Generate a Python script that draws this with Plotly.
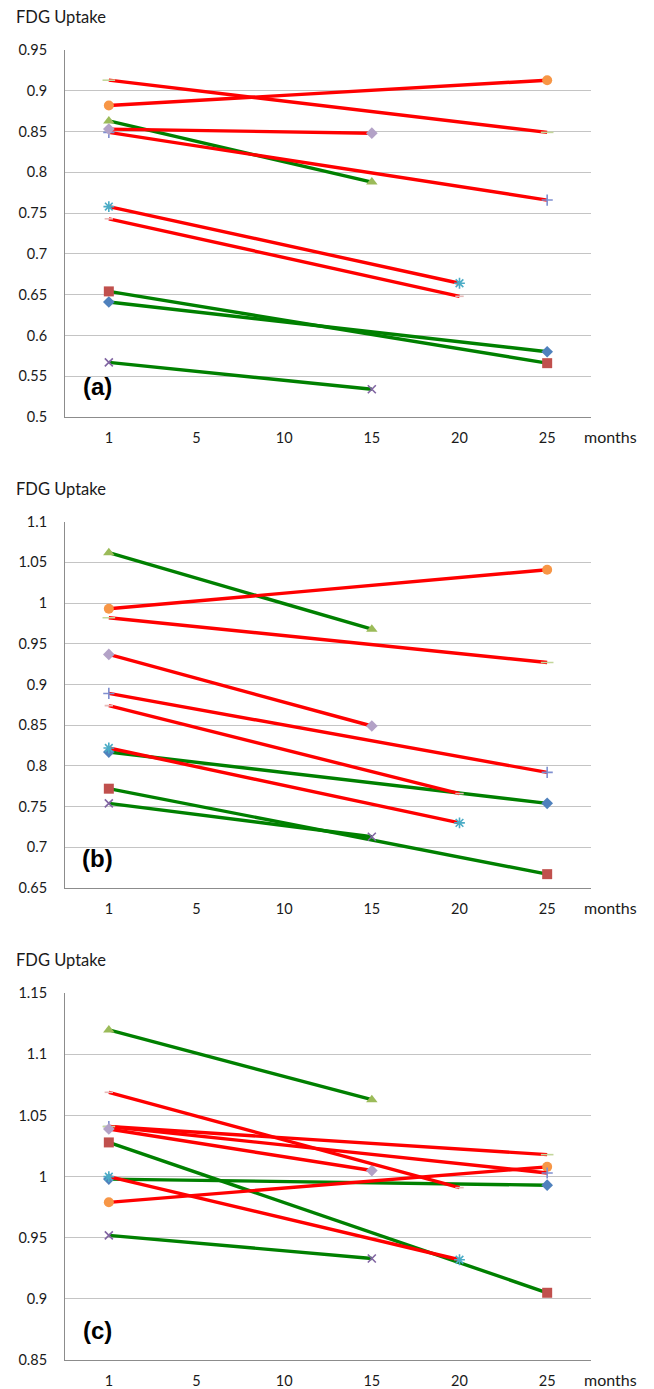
import plotly.graph_objects as go

months = ["1", "5", "10", "15", "20", "25"]

# subjects (series order): marker identity, end month, line colour group
subject_symbols = ["diamond", "square", "triangle-up", "x-thin-open", "asterisk-open",
                   "circle", "cross-thin-open", "line-ew-open", "diamond", "line-ew-open"]
subject_marker_colors = ["#4F81BD", "#C0504D", "#9BBB59", "#8064A2", "#4BACC6",
                         "#F79646", "#7F8FD0", "#C3D69B", "#B3A2C7", "#E6B9B8"]
subject_marker_sizes = [9, 10, 10, 8, 9, 10, 8, 9, 9, 6]
subject_line_colors = ["#008000", "#008000", "#008000", "#008000", "#FF0000",
                       "#FF0000", "#FF0000", "#FF0000", "#FF0000", "#FF0000"]
end_month = ["25", "25", "15", "15", "20", "25", "25", "25", "15", "20"]

# FDG uptake at month 1 and at the follow-up month
a_start = [0.641, 0.654, 0.863, 0.567, 0.758, 0.882, 0.849, 0.913, 0.853, 0.743]
a_end = [0.580, 0.566, 0.788, 0.534, 0.664, 0.913, 0.766, 0.849, 0.848, 0.648]

b_start = [0.817, 0.772, 1.062, 0.754, 0.822, 0.993, 0.889, 0.982, 0.937, 0.874]
b_end = [0.754, 0.667, 0.968, 0.713, 0.730, 1.041, 0.792, 0.927, 0.849, 0.766]

c_start = [0.998, 1.028, 1.120, 0.952, 1.000, 0.979, 1.041, 1.041, 1.039, 1.069]
c_end = [0.993, 0.905, 1.063, 0.933, 0.932, 1.008, 1.003, 1.018, 1.005, 0.991]

a_ticks = [0.5, 0.55, 0.6, 0.65, 0.7, 0.75, 0.8, 0.85, 0.9, 0.95]
a_ticktext = ["0.5", "0.55", "0.6", "0.65", "0.7", "0.75", "0.8", "0.85", "0.9", "0.95"]
b_ticks = [0.65, 0.7, 0.75, 0.8, 0.85, 0.9, 0.95, 1.0, 1.05, 1.1]
b_ticktext = ["0.65", "0.7", "0.75", "0.8", "0.85", "0.9", "0.95", "1", "1.05", "1.1"]
c_ticks = [0.85, 0.9, 0.95, 1.0, 1.05, 1.1, 1.15]
c_ticktext = ["0.85", "0.9", "0.95", "1", "1.05", "1.1", "1.15"]

panel_labels = ["(a)", "(b)", "(c)"]

W, H = 654, 1389
FONT = "Lato, 'Open Sans', sans-serif"
TXT = "#1a1a1a"

fig = go.Figure()

panels = [
    (a_start, a_end, "x", "y"),
    (b_start, b_end, "x2", "y2"),
    (c_start, c_end, "x3", "y3"),
]
for starts, ends, xa, ya in panels:
    for i in range(len(starts)):
        open_sym = subject_symbols[i].endswith("open")
        fig.add_trace(go.Scatter(
            x=[months[0], end_month[i]], y=[starts[i], ends[i]],
            xaxis=xa, yaxis=ya, mode="lines+markers",
            line=dict(color=subject_line_colors[i], width=3.4),
            marker=dict(symbol=subject_symbols[i], size=subject_marker_sizes[i],
                        color=subject_marker_colors[i],
                        line=dict(color=subject_marker_colors[i], width=1.6 if open_sym else 0)),
            showlegend=False, hoverinfo="x+y"))

# pixel geometry -> paper domains
x_dom = [65 / W, 591 / W]
plot_boxes = [(50, 417), (521.7, 888), (993.3, 1360)]
y_doms = [[1 - b / H, 1 - t / H] for t, b in plot_boxes]
yranges = [[0.5, 0.95], [0.65, 1.1], [0.85, 1.15]]
ytickvals = [a_ticks, b_ticks, c_ticks]
yticktexts = [a_ticktext, b_ticktext, c_ticktext]

layout = dict(
    width=W, height=H, margin=dict(l=0, r=0, t=0, b=0, autoexpand=False),
    paper_bgcolor="white", plot_bgcolor="white", showlegend=False,
    font=dict(family=FONT, size=14, color=TXT),
)
annotations = []
for k in range(3):
    sx = "" if k == 0 else str(k + 1)
    layout["xaxis" + sx] = dict(
        domain=x_dom, type="category", categoryorder="array", categoryarray=months,
        range=[-0.5, 5.5], anchor="y" + sx, showgrid=False, showline=True,
        linecolor="#8c8c8c", linewidth=1, ticks="", zeroline=False, automargin=False,
        tickfont=dict(family=FONT, size=14.5, color=TXT), ticklabelstandoff=8,
        fixedrange=True)
    layout["yaxis" + sx] = dict(
        domain=y_doms[k], range=yranges[k], anchor="x" + sx,
        tickvals=ytickvals[k], ticktext=yticktexts[k],
        showgrid=True, gridcolor="#c4c4c4", gridwidth=1, automargin=False,
        showline=True, linecolor="#8c8c8c", linewidth=1, ticks="", zeroline=False,
        tickfont=dict(family=FONT, size=14.5, color=TXT), ticklabelstandoff=14,
        fixedrange=True)
    t, b = plot_boxes[k]
    annotations.append(dict(text="FDG Uptake", xref="paper", yref="paper",
                            x=14 / W, y=1 - (t - 33) / H, xanchor="left", yanchor="middle",
                            showarrow=False, font=dict(family=FONT, size=16.5, color=TXT)))
    annotations.append(dict(text="months", xref="paper", yref="paper",
                            x=583 / W, y=1 - (b + 19.5) / H, xanchor="left", yanchor="middle",
                            showarrow=False, borderpad=0,
                            font=dict(family=FONT, size=16, color=TXT)))
    annotations.append(dict(text="<b>" + panel_labels[k] + "</b>", xref="paper", yref="paper",
                            x=97 / W, y=1 - (b - 30) / H, xanchor="center", yanchor="middle",
                            showarrow=False,
                            font=dict(family="'Liberation Sans', Arial, sans-serif", size=24,
                                      color="#000000")))
layout["annotations"] = annotations
fig.update_layout(**layout)

fig.write_html("out.html", config={"displayModeBar": False},
               post_script="document.body.style.margin='0px';")
